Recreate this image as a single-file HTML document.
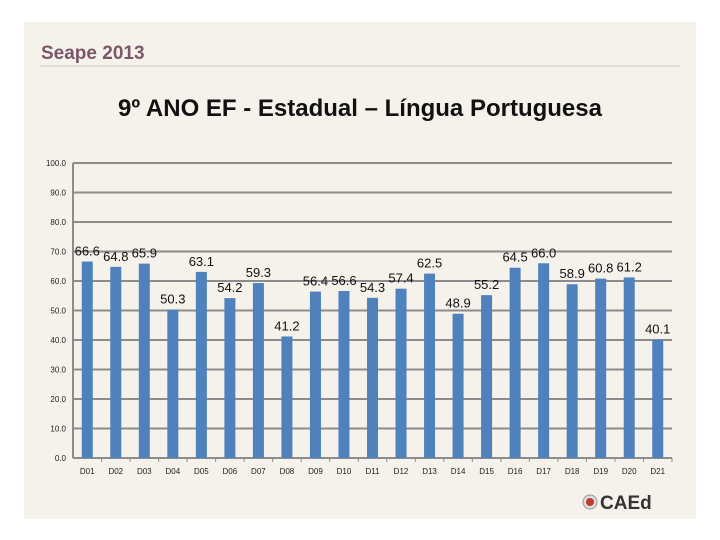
<!DOCTYPE html>
<html><head><meta charset="utf-8"><style>
body{margin:0;width:720px;height:540px;background:#fff;font-family:"Liberation Sans",sans-serif;overflow:hidden}
#panel{position:absolute;left:24px;top:22px;width:672px;height:497px;background:#f5f2ec}
</style></head><body>
<div id="panel"></div>
<svg id="c" width="720" height="540" style="position:absolute;left:0;top:0">
<text x="41" y="59" font-size="19" font-weight="bold" fill="#7a5868">Seape 2013</text>
<line x1="40" y1="66" x2="680" y2="66" stroke="#cdc6c0" stroke-width="1"/>
<text x="360" y="116" font-size="24" font-weight="bold" text-anchor="middle" fill="#111">9º ANO EF - Estadual – Língua Portuguesa</text>
<g id="logo">
<circle cx="590" cy="502" r="7" fill="#ddd" stroke="#999"/><circle cx="590" cy="502" r="4" fill="#c0392b"/>
<text x="600" y="509" font-size="19" font-weight="bold" fill="#333">CAEd</text>
</g>
</svg>
<script>
const categories=["D01","D02","D03","D04","D05","D06","D07","D08","D09","D10","D11","D12","D13","D14","D15","D16","D17","D18","D19","D20","D21"];
const values=[66.6,64.8,65.9,50.3,63.1,54.2,59.3,41.2,56.4,56.6,54.3,57.4,62.5,48.9,55.2,64.5,66.0,58.9,60.8,61.2,40.1];
const yTicks=[0,10,20,30,40,50,60,70,80,90,100];
const svg=document.getElementById('c');const NS="http://www.w3.org/2000/svg";
const x0=73,x1=672,y0=458,y100=163;
const band=(x1-x0)/categories.length;
const xs=i=>x0+band*(i+0.5);
const ys=v=>y0-(y0-y100)*v/100;
function mk(t,a){const e=document.createElementNS(NS,t);for(const k in a)e.setAttribute(k,a[k]);svg.appendChild(e);return e;}
yTicks.forEach(v=>{
 const l=mk('line',{x1:x0,x2:x1,y1:ys(v),y2:ys(v),stroke:'#8c8c8c','stroke-width':2});
 
 
 const t=mk('text',{x:66,y:ys(v)+3,'font-size':8,'text-anchor':'end',fill:'#222'});t.textContent=v.toFixed(1);
 
 
});
const ax=mk('line',{x1:x0,x2:x0,y1:y100,y2:y0,stroke:'#8c8c8c','stroke-width':2});


categories.forEach((c,i)=>{
 const v=values[i],cx=xs(i);
 const b=mk('rect',{x:cx-5.5,y:ys(v),width:11,height:y0-ys(v),fill:'#4f81bd'});
 
 
 const t=mk('text',{x:cx,y:ys(v)-6,'font-size':13,'text-anchor':'middle',fill:'#111'});t.textContent=v.toFixed(1);
 
 
 const tk=mk('line',{x1:x0+band*(i+1),x2:x0+band*(i+1),y1:y0,y2:y0+4,stroke:'#8c8c8c'});
 
 
 const xl=mk('text',{x:cx,y:474,'font-size':8,'text-anchor':'middle',fill:'#222'});xl.textContent=c;
 
 
});
</script>
</body></html>
